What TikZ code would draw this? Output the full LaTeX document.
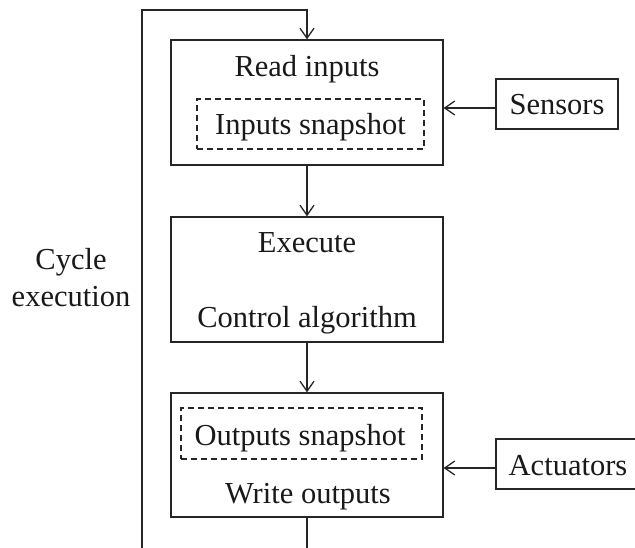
\documentclass[tikz,border=0pt]{standalone}
\usepackage{fontspec}
\setmainfont{Liberation Serif}
\usetikzlibrary{arrows.meta,calc}
\begin{document}
\begin{tikzpicture}[x=1pt,y=-1pt,
  line width=1.3pt, draw=black!85,
  box/.style={draw, rectangle, minimum width=272pt, inner sep=0pt},
  dbox/.style={draw, rectangle, dashed, dash pattern=on 6pt off 4pt, line width=1.1pt, inner sep=0pt},
  sbox/.style={draw, rectangle, minimum height=50pt, inner sep=0pt},
  lbl/.style={anchor=base, inner sep=0pt, font=\fontsize{30.5}{36}\selectfont, text=black!90},
  arr/.style={-{Straight Barb[length=10pt,width=14pt,line width=1.3pt]}}
]
\useasboundingbox (0,0) rectangle (635,548);
% main boxes
\node[box, minimum height=125pt] (b1) at (307,102.5) {};
\node[box, minimum height=125pt] (b2) at (307,279.5) {};
\node[box, minimum height=124pt] (b3) at (307,455) {};
% dashed inner boxes
\node[dbox, minimum width=227pt, minimum height=50pt] (ds1) at (310.5,124) {};
\node[dbox, minimum width=241pt, minimum height=51pt] (ds3) at (301.5,433.5) {};
% side boxes
\node[sbox, minimum width=122pt] (sen) at (557,104) {};
\node[sbox, minimum width=144pt] (act) at (568,464) {};
% texts
\node[lbl] (t1) at (307,77) {Read inputs};
\node[lbl] (t2) at (310.5,135) {Inputs snapshot};
\node[lbl] (t3) at (307,253) {Execute};
\node[lbl] (t4) at (307,327) {Control algorithm};
\node[lbl] (t5) at (300,445) {Outputs snapshot};
\node[lbl] (t6) at (308,503) {Write outputs};
\node[lbl] (t7) at (557,115) {Sensors};
\node[lbl] (t8) at (568,475) {Actuators};
\node[lbl] (t9) at (71,270) {Cycle};
\node[lbl] (t10) at (71,307) {execution};
% loop coordinates
\coordinate (bl) at (142,560);
\coordinate (br) at (307,560);
\coordinate (tp) at (307,10);
\coordinate (sw) at ($(sen.west)+(0,4)$);
\coordinate (aw) at ($(act.west)+(0,4)$);
% connectors
\draw[arr] (b1.south) -- (b2.north);
\draw[arr] (b2.south) -- (b3.north);
\draw (b3.south) -- (br);
\draw[arr] (bl) |- (tp) -- (b1.north);
\draw[arr] (sw) -- (sw -| b1.east);
\draw[arr] (aw) -- (aw -| b3.east);
\end{tikzpicture}
\end{document}
